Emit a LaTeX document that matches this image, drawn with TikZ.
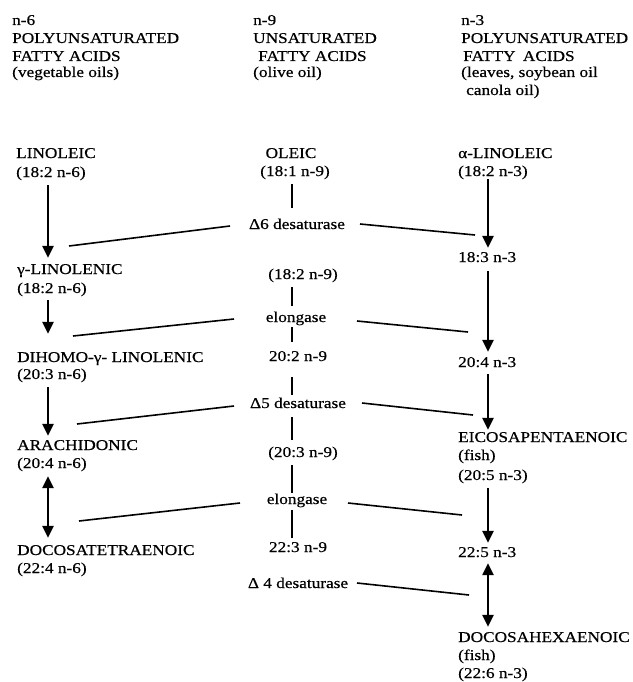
\documentclass[tikz,border=0pt]{standalone}
\usepackage{fontspec}
\setmainfont{Liberation Serif}[FakeStretch=1.15,FakeBold=0.5]
\usetikzlibrary{arrows.meta}
\begin{document}
\begin{tikzpicture}[x=1pt,y=-1pt,
  txt/.style={inner sep=0pt,text height=10.5pt,text depth=3pt,font=\fontsize{15}{18}\selectfont},
  lt/.style={txt,anchor=base west},
  ct/.style={txt,anchor=base},
  flow/.style={line width=2.4pt,-{Triangle[width=11pt,length=12pt]}},
  both/.style={line width=2.4pt,{Triangle[width=11pt,length=12pt]}-{Triangle[width=11pt,length=12pt]}},
  stem/.style={line width=2.6pt},
  enz/.style={line width=1.6pt}]
\useasboundingbox (0,0) rectangle (632,682);
% headers
\node[lt] (h1a) at (12,25) {n-6};
\node[lt] (h1b) at (12,43) {POLYUNSATURATED};
\node[lt] (h1c) at (12,61) {FATTY ACIDS};
\node[lt] (h1d) at (12,77) {(vegetable oils)};
\node[lt] (h2a) at (253,25) {n-9};
\node[lt] (h2b) at (253,43) {UNSATURATED};
\node[lt] (h2c) at (258,61) {FATTY ACIDS};
\node[lt] (h2d) at (253,77) {(olive oil)};
\node[lt] (h3a) at (461,25) {n-3};
\node[lt] (h3b) at (461,43) {POLYUNSATURATED};
\node[lt] (h3c) at (463,61) {FATTY\hspace{3pt} ACIDS};
\node[lt] (h3d) at (461,77) {(leaves, soybean oil};
\node[lt] (h3e) at (466,95) {canola oil)};
% n-6 column
\node[lt] (lin) at (16,158) {LINOLEIC};
\node[lt] (linb) at (16,177) {(18:2 n-6)};
\node[lt] (gla) at (17,274) {γ-LINOLENIC};
\node[lt] (glab) at (17,293) {(18:2 n-6)};
\node[lt] (dgla) at (17,362) {DIHOMO-γ- LINOLENIC};
\node[lt] (dglab) at (17,379) {(20:3 n-6)};
\node[lt] (ara) at (17,450) {ARACHIDONIC};
\node[lt] (arab) at (17,468) {(20:4 n-6)};
\node[lt] (dta) at (17,555) {DOCOSATETRAENOIC};
\node[lt] (dtab) at (17,573) {(22:4 n-6)};
% n-9 column
\node[ct] (ole) at (291,158) {OLEIC};
\node[ct] (oleb) at (295,176) {(18:1 n-9)};
\node[ct] (d6) at (297,229) {Δ6 desaturase};
\node[ct] (c182) at (303,279) {(18:2 n-9)};
\node[ct] (el1) at (296,322) {elongase};
\node[ct] (c202) at (298,361) {20:2 n-9};
\node[ct] (d5) at (298,408) {Δ5 desaturase};
\node[ct] (c203) at (303,457) {(20:3 n-9)};
\node[ct] (el2) at (297,504) {elongase};
\node[ct] (c223) at (298,552) {22:3 n-9};
\node[ct] (d4) at (298,588) {Δ 4 desaturase};
% n-3 column
\node[lt] (alin) at (458,158) {α-LINOLEIC};
\node[lt] (alinb) at (458,176) {(18:2 n-3)};
\node[lt] (s183) at (458,262) {18:3 n-3};
\node[lt] (s204) at (458,367) {20:4 n-3};
\node[lt] (epa) at (458,442) {EICOSAPENTAENOIC};
\node[lt] (epab) at (458,460) {(fish)};
\node[lt] (epac) at (458,480) {(20:5 n-3)};
\node[lt] (s225) at (458,557) {22:5 n-3};
\node[lt] (dha) at (458,642) {DOCOSAHEXAENOIC};
\node[lt] (dhab) at (458,660) {(fish)};
\node[lt] (dhac) at (458,678) {(22:6 n-3)};
% axes of the vertical connectors
\coordinate (xl) at (48,0);
\coordinate (xm) at (292,0);
\coordinate (xr) at (488,0);
% n-6 arrows
\draw[flow,shorten <=5pt,shorten >=5.5pt] (linb.south -| xl) -- (gla.north -| xl);
\draw[flow,shorten <=4pt,shorten >=17.5pt] (glab.south -| xl) -- (dgla.north -| xl);
\draw[flow,shorten <=5pt,shorten >=3.5pt] (dglab.south -| xl) -- (ara.north -| xl);
\draw[both,shorten <=5pt,shorten >=6.5pt] (arab.south -| xl) -- (dta.north -| xl);
% n-3 arrows
\draw[flow,shorten <=0pt,shorten >=3.5pt] (alinb.south -| xr) -- (s183.north -| xr);
\draw[flow,shorten <=6pt,shorten >=4.5pt] (s183.south -| xr) -- (s204.north -| xr);
\draw[flow,shorten <=4pt,shorten >=1.5pt] (s204.south -| xr) -- (epa.north -| xr);
\draw[flow,shorten <=5pt,shorten >=3.5pt] (epac.south -| xr) -- (s225.north -| xr);
\draw[both,shorten <=3pt,shorten >=4.5pt] (s225.south -| xr) -- (dha.north -| xr);
% n-9 stems
\draw[stem,shorten <=5pt,shorten >=10.5pt] (oleb.south -| xm) -- (d6.north -| xm);
\draw[stem,shorten <=5pt,shorten >=5.5pt] (c182.south -| xm) -- (el1.north -| xm);
\draw[stem,shorten <=2pt,shorten >=8.5pt] (el1.south -| xm) -- (c202.north -| xm);
\draw[stem,shorten <=13pt,shorten >=2.5pt] (c202.south -| xm) -- (d5.north -| xm);
\draw[stem,shorten <=6pt,shorten >=6.5pt] (d5.south -| xm) -- (c203.north -| xm);
\draw[stem,shorten <=5pt,shorten >=0.5pt] (c203.south -| xm) -- (el2.north -| xm);
\draw[stem,shorten <=3pt,shorten >=3.5pt] (el2.south -| xm) -- (c223.north -| xm);
% enzyme lines
\coordinate (d6a) at (69,246);  \coordinate (d6b) at (230,226);
\coordinate (d6c) at (360,224); \coordinate (d6d) at (475,235);
\coordinate (e1a) at (73,336);  \coordinate (e1b) at (234,319);
\coordinate (e1c) at (357,321); \coordinate (e1d) at (468,332);
\coordinate (d5a) at (77,424);  \coordinate (d5b) at (234,406);
\coordinate (d5c) at (362,403); \coordinate (d5d) at (473,415);
\coordinate (e2a) at (79,521);  \coordinate (e2b) at (240,503);
\coordinate (e2c) at (348,503); \coordinate (e2d) at (462,515);
\coordinate (d4c) at (357,583); \coordinate (d4d) at (469,595);
\draw[enz] (d6a) -- (d6b);
\draw[enz] (d6c) -- (d6d);
\draw[enz] (e1a) -- (e1b);
\draw[enz] (e1c) -- (e1d);
\draw[enz] (d5a) -- (d5b);
\draw[enz] (d5c) -- (d5d);
\draw[enz] (e2a) -- (e2b);
\draw[enz] (e2c) -- (e2d);
\draw[enz] (d4c) -- (d4d);
\end{tikzpicture}
\end{document}
